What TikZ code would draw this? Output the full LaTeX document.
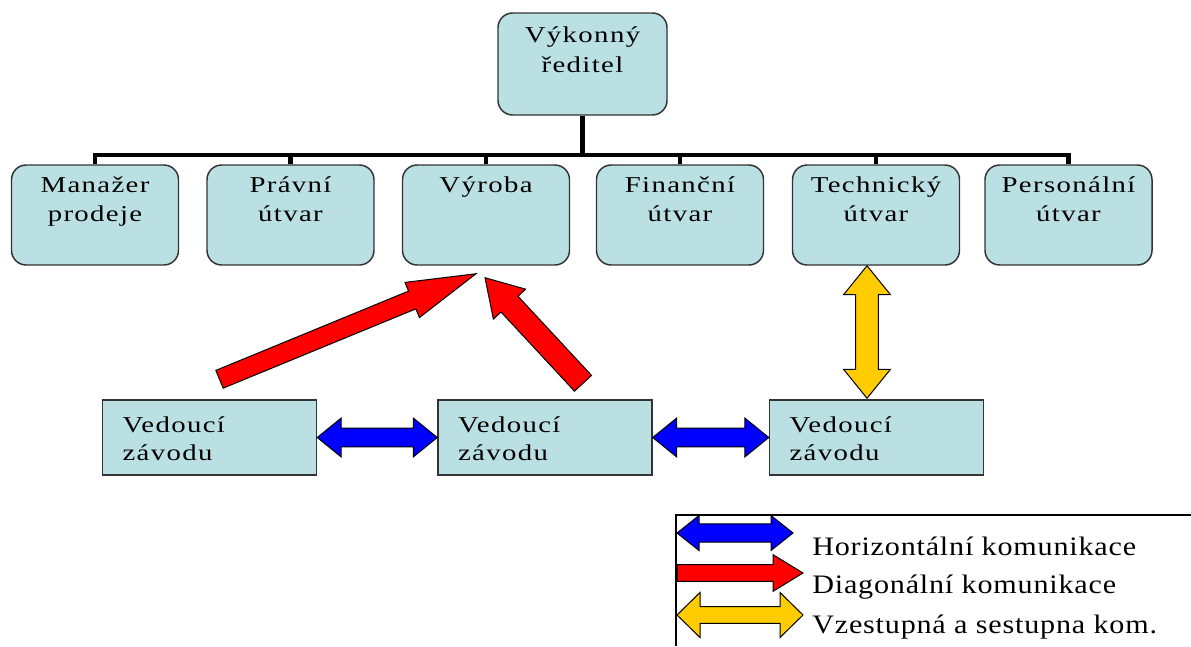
\documentclass[tikz,border=0pt]{standalone}
\usepackage{fontspec}
\setmainfont{Liberation Serif}
\newfontfamily\boxfont[FakeStretch=1.27,LetterSpace=6]{Liberation Serif}
\newfontfamily\legfont[FakeStretch=1.13,LetterSpace=3]{Liberation Serif}
\usetikzlibrary{calc}
\definecolor{boxfill}{HTML}{BBE0E3}
\definecolor{boxline}{HTML}{333333}
\definecolor{hblue}{HTML}{0000FF}
\definecolor{dred}{HTML}{FF0000}
\definecolor{vyellow}{HTML}{FFCC00}
\tikzset{
  rbox/.style={draw=boxline, line width=1.1pt, fill=boxfill, rounded corners=11pt,
    inner sep=0pt, text width=125.25pt, align=center, text height=20.6pt, text depth=54.4pt,
    font=\boxfont\fontsize{17}{21.75}\selectfont},
  topbox/.style={rbox, text width=126.75pt, text height=21.75pt, text depth=54.75pt,
    font=\boxfont\fontsize{17}{22.5}\selectfont},
  sbox/.style={draw=boxline, line width=1.1pt, fill=boxfill, inner xsep=15pt, inner ysep=0pt,
    text width=130.5pt, align=left, text height=24pt, text depth=32.25pt,
    font=\boxfont\fontsize{17}{21}\selectfont},
  bus/.style={line width=3.6pt, black, line join=miter},
  arrowline/.style={draw=black, line width=0.75pt, line join=miter},
  legtext/.style={anchor=base west, inner sep=0pt, font=\legfont\fontsize{20}{24}\selectfont},
}
% #1 colour, #2 from, #3 to, #4 half shaft, #5 half head, #6 head length
\newcommand\dblarr[6]{%
  \coordinate (n1) at ($(#2)!#6!(#3)$);
  \coordinate (n2) at ($(#3)!#6!(#2)$);
  \draw[arrowline, fill=#1] (#2) -- ($(n1)!#5!90:(#3)$) -- ($(n1)!#4!90:(#3)$)
    -- ($(n2)!#4!-90:(#2)$) -- ($(n2)!#5!-90:(#2)$) -- (#3)
    -- ($(n2)!#5!90:(#2)$) -- ($(n2)!#4!90:(#2)$)
    -- ($(n1)!#4!-90:(#3)$) -- ($(n1)!#5!-90:(#3)$) -- cycle;}
\newcommand\sglarr[6]{%
  \coordinate (n2) at ($(#3)!#6!(#2)$);
  \draw[arrowline, fill=#1] ($(#2)!#4!90:(#3)$) -- ($(n2)!#4!-90:(#2)$)
    -- ($(n2)!#5!-90:(#2)$) -- (#3) -- ($(n2)!#5!90:(#2)$)
    -- ($(n2)!#4!90:(#2)$) -- ($(#2)!#4!-90:(#3)$) -- cycle;}
\begin{document}
\begin{tikzpicture}[x=0.75pt,y=-0.75pt]
\useasboundingbox (0,0) rectangle (1191,646);
% top level
\node[topbox] (top) at (582.5,64) {Výkonný\\ředitel};
\node[rbox] (t1) at (95,215) {Manažer\\prodeje};
\node[rbox] (t2) at (290.5,215) {Právní\\útvar};
\node[rbox] (t3) at (486,215) {Výroba};
\node[rbox] (t4) at (680,215) {Finanční\\útvar};
\node[rbox] (t5) at (876,215) {Technický\\útvar};
\node[rbox] (t6) at (1068.5,215) {Personální\\útvar};
% bus
\coordinate (bus) at (0,155);
\draw[bus] (top.south) -- (top.south |- bus);
\draw[bus] (t1.north) -- (t1.north |- bus) -- (t6.north |- bus) -- (t6.north);
\foreach \i in {2,3,4,5} \draw[bus] (t\i.north) -- (t\i.north |- bus);
% bottom boxes
\node[sbox] (va) at (209.5,437.5) {Vedoucí\\závodu};
\node[sbox] (vb) at (545,437.5) {Vedoucí\\závodu};
\node[sbox] (vc) at (876.5,437.5) {Vedoucí\\závodu};
% horizontal arrows
\dblarr{hblue}{va.east}{vb.west}{7.1pt}{14.6pt}{18pt}
\dblarr{hblue}{vb.east}{vc.west}{7.1pt}{14.6pt}{18pt}
% vertical arrow
\coordinate (y1) at ($(t5.south)+(-9,0)$);
\coordinate (y2) at ($(vc.north)+(-9.5,-1)$);
\dblarr{vyellow}{y1}{y2}{8.6pt}{17.6pt}{21.75pt}
% diagonal arrows
\coordinate (r1a) at ($(va.north)+(10,-20)$);
\coordinate (r1b) at ($(t3.south)+(-10,8)$);
\sglarr{dred}{r1a}{r1b}{7.2pt}{14.25pt}{51.75pt}
\coordinate (r2a) at ($(vb.north)+(38,-16)$);
\coordinate (r2b) at ($(t3.south)+(-1,12)$);
\sglarr{dred}{r2a}{r2b}{8.7pt}{16.5pt}{27pt}
% legend
\draw[line width=1.1pt] (1191,515) -- (676,515) -- (676,646);
\coordinate (lb1) at (677,533); \coordinate (lb2) at (793,533);
\dblarr{hblue}{lb1}{lb2}{6.9pt}{13.1pt}{16.5pt}
\coordinate (lr1) at (677,573); \coordinate (lr2) at (803,573);
\sglarr{dred}{lr1}{lr2}{6.25pt}{13.75pt}{22.5pt}
\coordinate (ly1) at (677,615); \coordinate (ly2) at (803,615);
\dblarr{vyellow}{ly1}{ly2}{6.25pt}{16.9pt}{17.25pt}
\node[legtext] (lh) at (812,555) {Horizontální komunikace};
\node[legtext] (ld) at (812,593) {Diagonální komunikace};
\node[legtext] (lv) at (812,633) {Vzestupná a sestupna kom.};
\end{tikzpicture}
\end{document}
